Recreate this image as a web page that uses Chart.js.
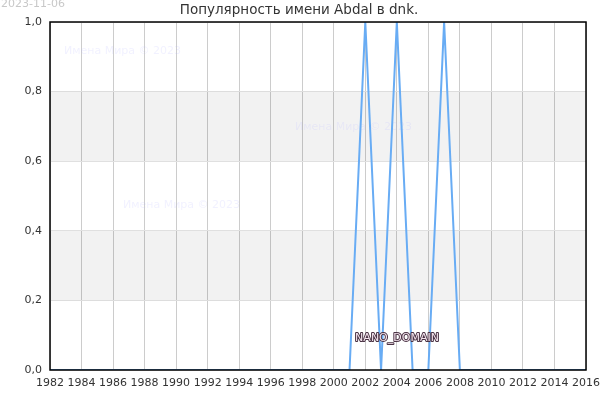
<!DOCTYPE html>
<html>
<head>
<meta charset="utf-8">
<script src="https://cdn.jsdelivr.net/npm/chart.js@4/dist/chart.umd.min.js"></script>
<style>
  html, body { margin: 0; padding: 0; background: #fff; }
  #wrap { width: 600px; height: 400px; }
</style>
</head>
<body>
<div id="wrap"><canvas id="c" width="600" height="400"></canvas></div>
<script>
// chart data
const years = [1982, 1983, 1984, 1985, 1986, 1987, 1988, 1989, 1990, 1991, 1992, 1993, 1994, 1995, 1996, 1997, 1998, 1999,
    2000, 2001, 2002, 2003, 2004, 2005, 2006, 2007, 2008, 2009, 2010, 2011, 2012, 2013, 2014, 2015, 2016];
const popularity = [0, 0, 0, 0, 0, 0, 0, 0, 0, 0, 0, 0, 0, 0, 0, 0, 0, 0,
    0, 0, 1, 0, 1, 0, 0, 1, 0, 0, 0, 0, 0, 0, 0, 0, 0];
const bands = [[0.2, 0.4], [0.6, 0.8]];
const titleText = 'Популярность имени Abdal в dnk.';
const dateText = '2023-11-06';
const watermark = 'Имена Мира © 2023';

const FONT = '"DejaVu Sans", sans-serif';

// background bands, watermarks, frame and header texts
const decor = {
    id: 'decor',
    beforeDatasetsDraw(chart) {
        const ctx = chart.ctx;
        const a = chart.chartArea;
        const y = chart.scales.y;
        ctx.save();
        ctx.fillStyle = 'rgba(0,0,0,0.05)';
        bands.forEach(b => {
            const top = y.getPixelForValue(b[1]);
            const bot = y.getPixelForValue(b[0]);
            ctx.fillRect(a.left, top, a.right - a.left, bot - top);
        });
        ctx.font = '11px ' + FONT;
        ctx.fillStyle = 'rgba(180,180,255,0.18)';
        ctx.textBaseline = 'middle';
        ctx.textAlign = 'left';
        ctx.fillText(watermark, 64, 51);
        ctx.fillText(watermark, 295, 127);
        ctx.fillText(watermark, 123, 205);
        ctx.restore();
    },
    afterDraw(chart) {
        const ctx = chart.ctx;
        const a = chart.chartArea;
        ctx.save();
        ctx.strokeStyle = '#000';
        ctx.lineWidth = 1.5;
        ctx.strokeRect(a.left, a.top, a.right - a.left, a.bottom - a.top);

        ctx.textBaseline = 'middle';
        ctx.textAlign = 'center';
        ctx.font = '13.5px ' + FONT;
        ctx.fillStyle = '#333';
        ctx.fillText(titleText, 299, 10);

        ctx.textAlign = 'left';
        ctx.font = '11px ' + FONT;
        ctx.fillStyle = '#c8c8c8';
        ctx.fillText(dateText, 1, 4);

        ctx.textAlign = 'center';
        ctx.font = '11px ' + FONT;
        ctx.lineWidth = 2;
        ctx.strokeStyle = '#4a3344';
        ctx.lineJoin = 'round';
        ctx.strokeText('NANO_DOMAIN', 397, 338);
        ctx.fillStyle = '#f4e4ee';
        ctx.fillText('NANO_DOMAIN', 397, 338);
        ctx.restore();
    }
};

new Chart(document.getElementById('c'), {
    type: 'line',
    data: {
        labels: years,
        datasets: [{
            data: years.map((yr, i) => ({ x: yr, y: popularity[i] })),
            borderColor: '#68acf4',
            borderWidth: 2,
            pointRadius: 0,
            tension: 0,
            fill: false
        }]
    },
    options: {
        responsive: false,
        animation: false,
        devicePixelRatio: 1,
        layout: { padding: { top: 22, right: 14, left: 0, bottom: 0 } },
        plugins: {
            legend: { display: false },
            tooltip: { enabled: false }
        },
        scales: {
            x: {
                type: 'linear',
                min: 1982,
                max: 2016,
                afterFit(s) {
                    s.height = 30;
                    s.paddingLeft = 0;
                    s.paddingRight = 0;
                },
                ticks: {
                    stepSize: 2,
                    autoSkip: false,
                    maxRotation: 0,
                    color: '#333',
                    padding: 7,
                    font: { family: FONT, size: 11 },
                    callback: v => String(v)
                },
                grid: { color: '#cccccc', lineWidth: 1, drawTicks: false },
                border: { display: false }
            },
            y: {
                min: 0,
                max: 1,
                afterFit(s) {
                    s.width = 50;
                    s.paddingTop = 0;
                    s.paddingBottom = 0;
                },
                ticks: {
                    stepSize: 0.2,
                    color: '#333',
                    padding: 8,
                    font: { family: FONT, size: 11 },
                    callback: v => v.toFixed(1).replace('.', ',')
                },
                grid: { color: '#e2e2e2', lineWidth: 1, drawTicks: false },
                border: { display: false }
            }
        }
    },
    plugins: [decor]
});
</script>
</body>
</html>
